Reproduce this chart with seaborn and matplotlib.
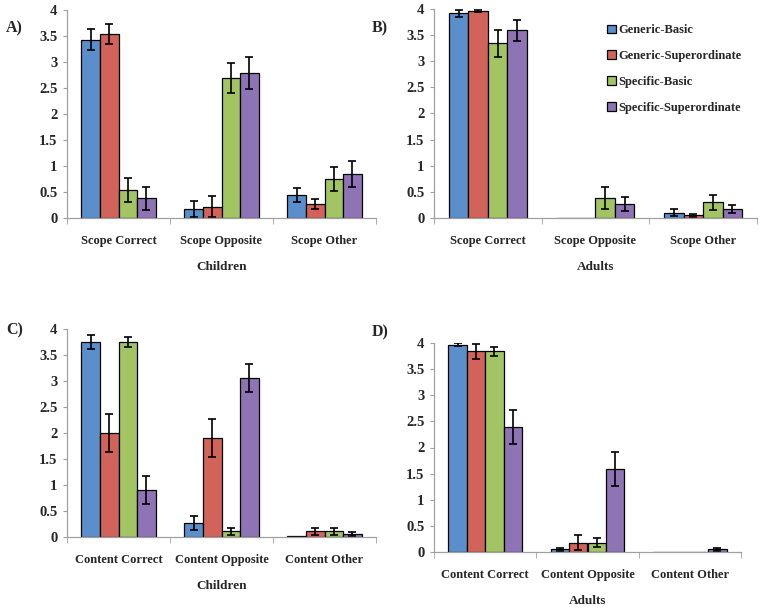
import numpy as np
import pandas as pd
import seaborn as sns
from matplotlib import pyplot as plt
from matplotlib.ticker import FuncFormatter

sns.set_style('white')
plt.rcParams['font.family'] = ['Liberation Serif', 'DejaVu Serif']
plt.rcParams['font.weight'] = 'bold'

conditions = ['Generic-Basic', 'Generic-Superordinate', 'Specific-Basic', 'Specific-Superordinate']
colors = ['#5a8fcb', '#d2635b', '#a3c462', '#8e74b4']

scope_cats = ['Scope Correct', 'Scope Opposite', 'Scope Other']
content_cats = ['Content Correct', 'Content Opposite', 'Content Other']

# one row per condition, one column per category
children_scope = [[3.43, 0.17, 0.44], [3.54, 0.22, 0.27], [0.53, 2.69, 0.75], [0.38, 2.79, 0.85]]
children_scope_err = [[0.20, 0.15, 0.14], [0.20, 0.21, 0.09], [0.23, 0.29, 0.23], [0.22, 0.31, 0.25]]

adults_scope = [[3.92, 0.0, 0.10], [3.97, 0.0, 0.05], [3.34, 0.38, 0.30], [3.59, 0.27, 0.17]]
adults_scope_err = [[0.07, 0.0, 0.07], [0.02, 0.0, 0.03], [0.25, 0.21, 0.14], [0.20, 0.14, 0.08]]

children_content = [[3.75, 0.27, 0.01], [2.00, 1.90, 0.11], [3.75, 0.11, 0.11], [0.90, 3.06, 0.06]]
children_content_err = [[0.13, 0.14, 0.0], [0.37, 0.36, 0.07], [0.10, 0.07, 0.07], [0.27, 0.27, 0.04]]

adults_content = [[3.97, 0.05, 0.0], [3.84, 0.18, 0.0], [3.84, 0.18, 0.0], [2.39, 1.59, 0.05]]
adults_content_err = [[0.03, 0.03, 0.0], [0.15, 0.15, 0.0], [0.08, 0.09, 0.0], [0.32, 0.32, 0.03]]

W, H = 762, 611
fig = plt.figure(figsize=(W / 100, H / 100), dpi=100)


def px_axes(x0, y0, x1, y1):
    return fig.add_axes([x0 / W, 1 - y1 / H, (x1 - x0) / W, (y1 - y0) / H])


def draw_panel(ax, cats, means, errs, xlabel, legend=False):
    df = pd.DataFrame({
        'category': [c for cond in conditions for c in cats],
        'condition': [cond for cond in conditions for c in cats],
        'value': [v for row in means for v in row],
    })
    sns.barplot(data=df, x='category', y='value', hue='condition', order=cats,
                hue_order=conditions, palette=colors, saturation=1, width=0.72,
                errorbar=None, edgecolor='black', linewidth=0.9, ax=ax, legend=legend)
    for cont, err_row in zip(ax.containers, errs):
        xs = [b.get_x() + b.get_width() / 2 for b in cont]
        hs = [b.get_height() for b in cont]
        keep = [i for i, e in enumerate(err_row) if e > 0]
        if keep:
            ax.errorbar([xs[i] for i in keep], [hs[i] for i in keep],
                        yerr=[err_row[i] for i in keep], fmt='none', ecolor='black',
                        elinewidth=1.2, capsize=3, capthick=1.2)

    ax.set_xlim(-0.5, 2.5)
    ax.set_ylim(0, 4)
    ax.set_yticks(np.arange(0, 4.01, 0.5))
    ax.yaxis.set_major_formatter(FuncFormatter(lambda v, p: f'{v:g}'))
    ax.set_xticks([0, 1, 2])
    ax.set_xticks([-0.5, 0.5, 1.5, 2.5], minor=True)
    ax.tick_params(axis='x', which='major', length=0, pad=12, labelsize=9)
    ax.tick_params(axis='x', which='minor', length=4, color='#a0a0a0', direction='out', bottom=True)
    ax.tick_params(axis='y', length=3, color='#a0a0a0', direction='out', left=True, labelsize=10.5, pad=4)
    for lbl in ax.get_xticklabels() + ax.get_yticklabels():
        lbl.set_fontweight('bold')
    ax.set_ylabel('')
    ax.set_xlabel(xlabel, fontsize=9.5, fontweight='bold', labelpad=10)
    for s in ['top', 'right']:
        ax.spines[s].set_visible(False)
    for s in ['left', 'bottom']:
        ax.spines[s].set_color('#a0a0a0')
        ax.spines[s].set_linewidth(0.9)


ax_a = px_axes(67, 10, 376, 218)
ax_b = px_axes(434, 9, 757, 218)
ax_c = px_axes(67, 329, 376, 537)
ax_d = px_axes(434, 343, 741, 552)

draw_panel(ax_a, scope_cats, children_scope, children_scope_err, 'Children')
draw_panel(ax_b, scope_cats, adults_scope, adults_scope_err, 'Adults', legend=True)
draw_panel(ax_c, content_cats, children_content, children_content_err, 'Children')
draw_panel(ax_d, content_cats, adults_content, adults_content_err, 'Adults')

handles, labels = ax_b.get_legend_handles_labels()
ax_b.legend(handles, labels, loc='upper left', bbox_to_anchor=(0.52, 0.95), frameon=False,
            prop={'size': 9, 'weight': 'bold'}, handlelength=0.7, handleheight=0.7,
            handletextpad=0.2, labelspacing=1.1, borderaxespad=0)

for letter, x, y in [('A)', 6, 28), ('B)', 372, 28), ('C)', 6, 330), ('D)', 372, 332)]:
    fig.text(x / W, 1 - y / H, letter, fontsize=11.5, fontweight='bold', va='center', ha='left')

fig.savefig('out.png', dpi=100)
